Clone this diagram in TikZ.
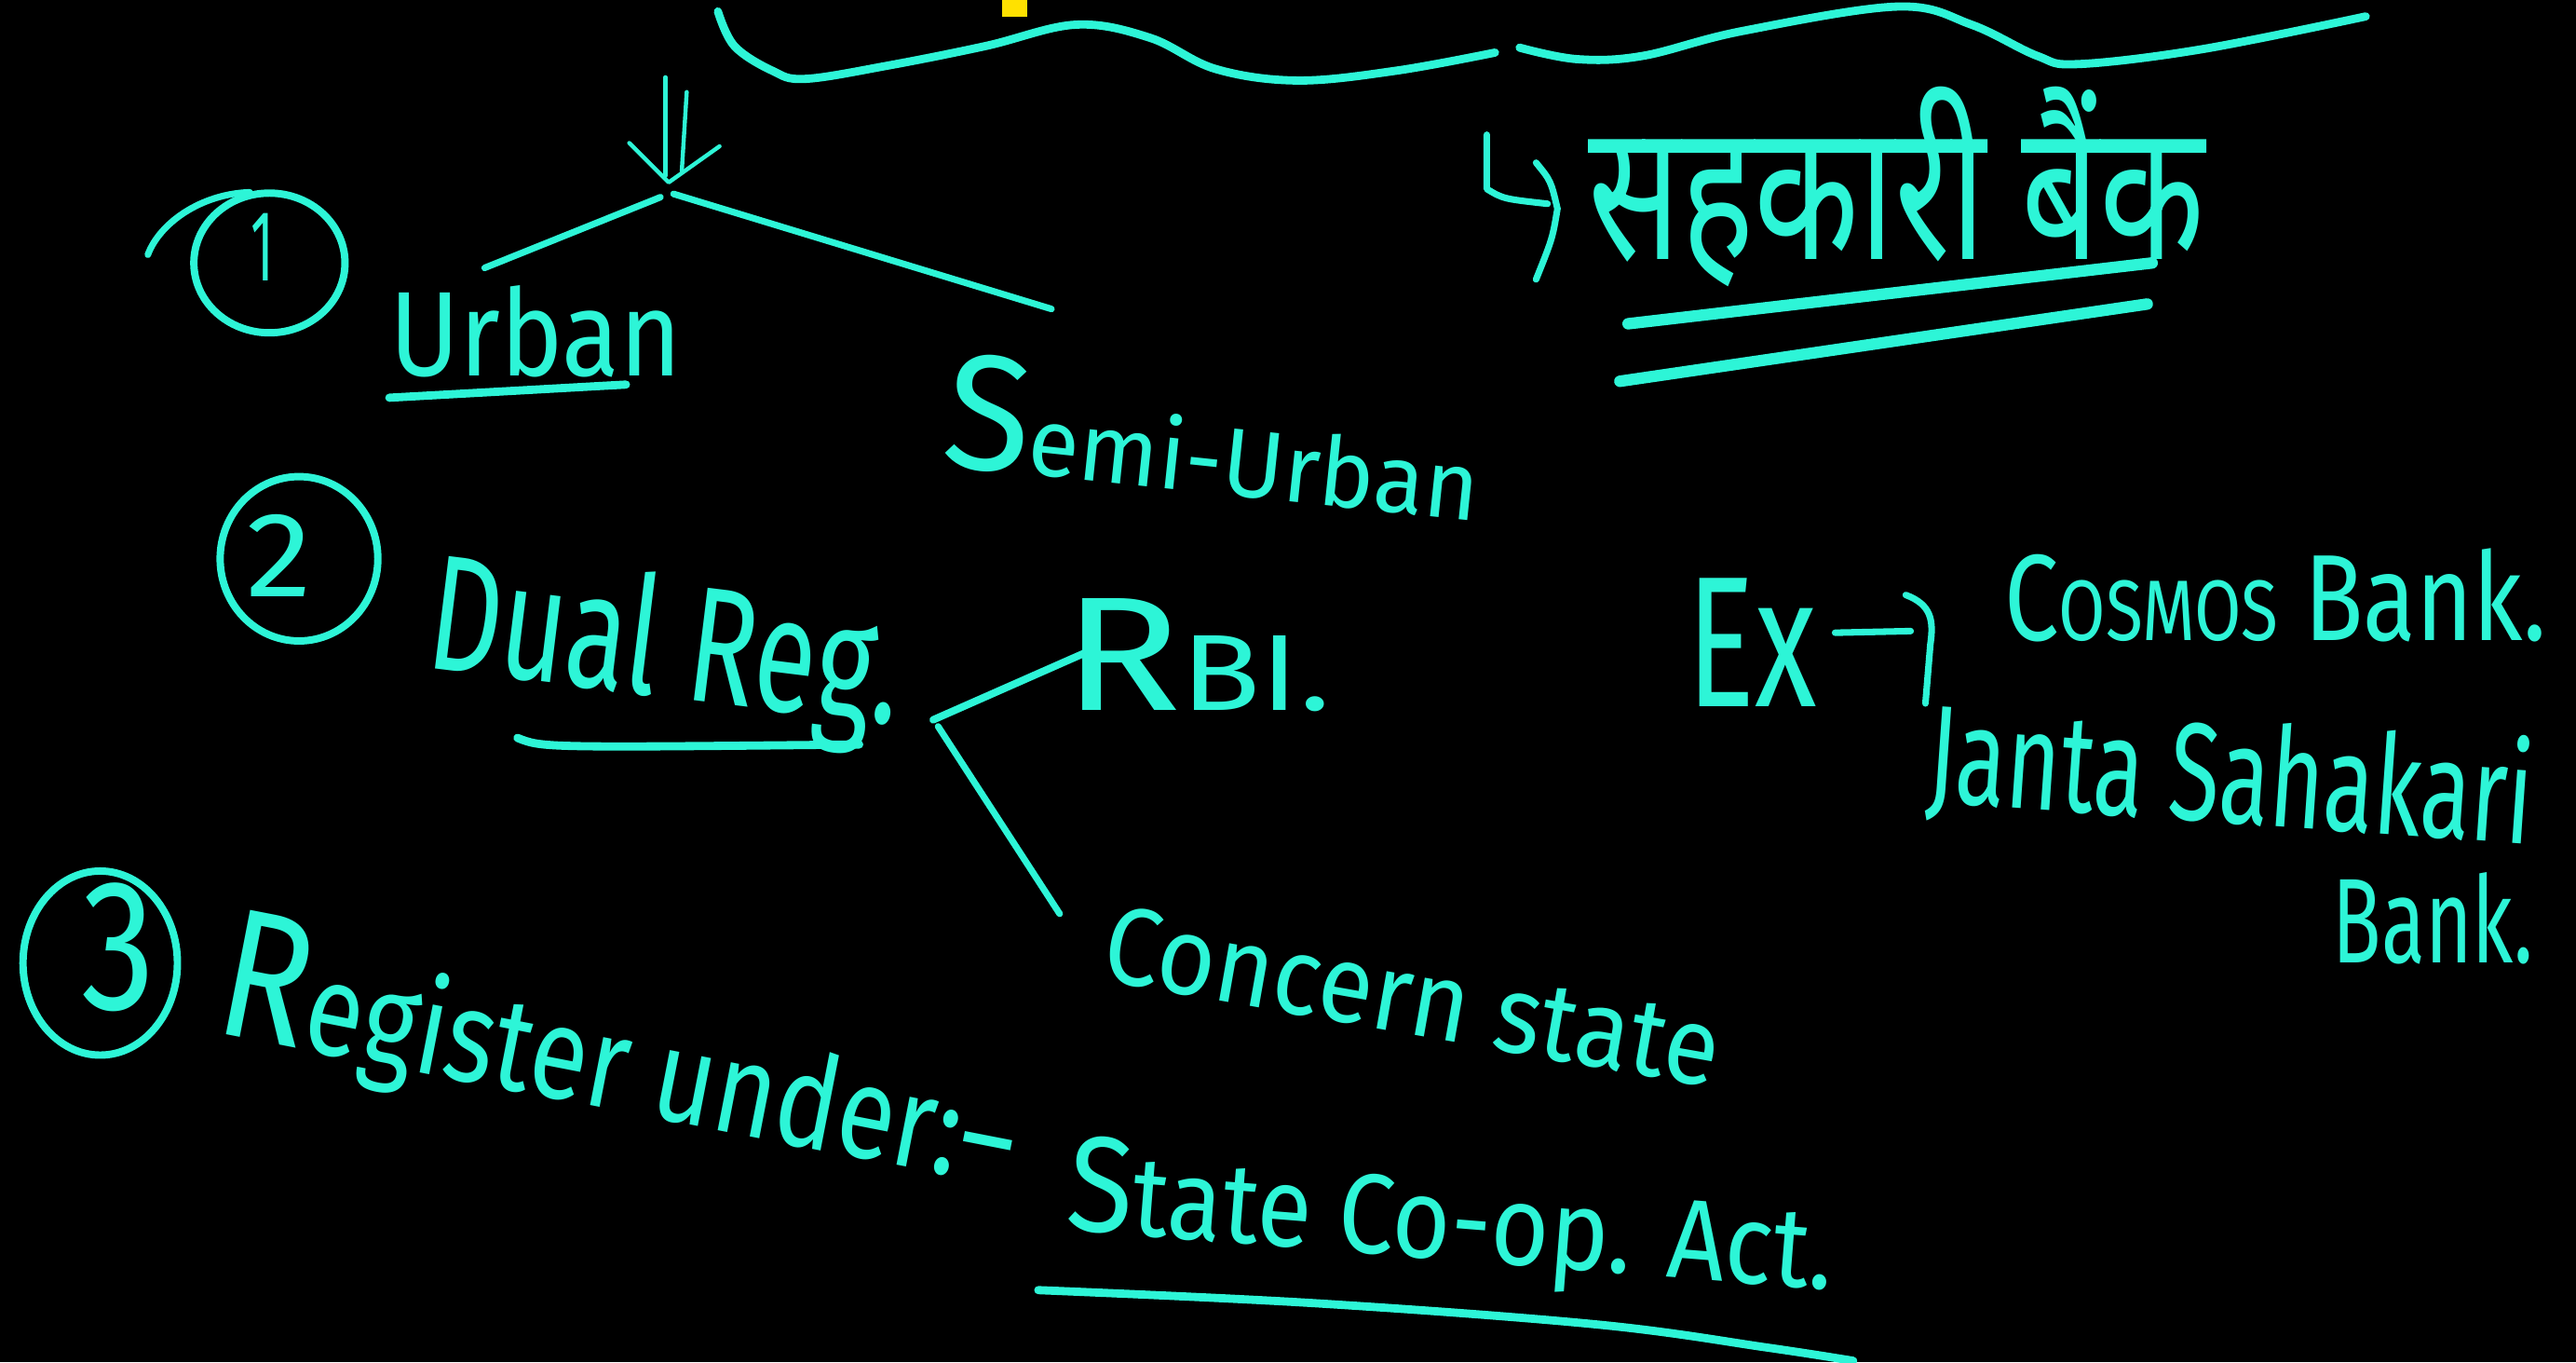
\documentclass[tikz,border=0pt]{standalone}
\usepackage{fontspec}
\usepackage{graphicx}
\setmainfont{Fira Sans}
\newfontfamily\devafont[Script=Devanagari]{Noto Sans}
\usetikzlibrary{shapes.geometric}
\definecolor{inkc}{RGB}{45,245,215}
\definecolor{cursorc}{RGB}{255,225,0}
\newcommand\hwbox[3]{\resizebox{#1pt}{#2pt}{#3}}
\tikzset{
  pen/.style={draw=inkc, line width=4pt, line cap=round, line join=round},
  thinpen/.style={draw=inkc, line width=2.5pt, line cap=round, line join=round},
  thickpen/.style={draw=inkc, line width=6pt, line cap=round, line join=round},
  hw/.style={inner sep=0pt, outer sep=0pt, anchor=base west, text=inkc},
  hwc/.style={inner sep=0pt, outer sep=0pt, anchor=base, text=inkc},
  ring/.style={ellipse, draw=inkc, line width=4.5pt, inner sep=0pt},
}
\begin{document}
\begin{tikzpicture}[x=1pt,y=-1pt]
\fill[black] (0,0) rectangle (1568,829);
\useasboundingbox (0,0) rectangle (1568,829);

% cursor mark
\fill[cursorc] (610,0) rectangle (625,10);

% top brace
\draw[pen, line width=5pt] plot[smooth, tension=0.6] coordinates {(437,7) (447,28) (470,43) (490,48) (540,40) (600,28) (655,15) (700,23) (740,42) (790,49) (850,43) (910,32)};
\draw[pen, line width=5pt] plot[smooth, tension=0.6] coordinates {(925,29) (960,36) (1000,34) (1060,19) (1155,4) (1200,15) (1240,34) (1265,39) (1340,30) (1440,10)};

% double arrow
\coordinate (arrT1) at (405,47);
\coordinate (arrB1) at (405,107);
\coordinate (arrT2) at (418,56);
\coordinate (arrB2) at (415,104);
\draw[thinpen] (arrT1) -- (arrB1);
\draw[thinpen] (arrT2) -- (arrB2);
\coordinate (headL) at (383,87);
\coordinate (headT) at (407,111);
\coordinate (headR) at (438,89);
\draw[thinpen] (headL) -- (headT) -- (headR);

% branches from arrow
\coordinate (apexA) at (402,120);
\coordinate (apexA2) at (410,118);
\coordinate (urbTip) at (295,163);
\coordinate (semiTip) at (640,188);
\draw[pen] (apexA) -- (urbTip);
\draw[pen] (apexA2) -- (semiTip);

% item 1
\node[ring, minimum width=92pt, minimum height=85pt] (c1) at (164,160) {};
\coordinate (t1a) at (90,155);
\coordinate (t1b) at (152,117);
\draw[pen] (t1a) .. controls (97,136) and (122,118) .. (t1b);
\node[hwc] (d1) at (160,171) {\hwbox{14}{41}{1}};
\node[hw] (urban) at (237,229) {\hwbox{178}{55}{Urban}};
\coordinate (ulA) at (237,242);
\coordinate (ulB) at (381,234);
\draw[pen, line width=5pt] (ulA) -- (ulB);

\node[hw, rotate=-6] (semi) at (572,283) {\hwbox{328}{70}{{\fontsize{17}{17}\selectfont S}emi-Urban}};

% item 2
\node[ring, minimum width=96pt, minimum height=100pt] (c2) at (182,340) {};
\node[hwc] (d2) at (170,363) {\hwbox{40}{50}{2}};
\node[hw, rotate=-7] (dual) at (258,406) {\hwbox{289}{75}{Dual Reg.}};
\coordinate (ul2A) at (315,449);
\coordinate (ul2B) at (523,453);
\draw[pen, line width=5pt] (ul2A) .. controls (330,455) .. (ul2B);

\coordinate (apexB) at (568,438);
\coordinate (rbiTip) at (661,397);
\coordinate (apexB2) at (571,442);
\coordinate (stTip) at (645,556);
\draw[pen, line width=4.5pt] (apexB) -- (rbiTip);
\draw[pen] (apexB2) -- (stTip);
\node[hw] (rbi) at (647,432) {\hwbox{163}{68}{{\fontsize{15}{15}\selectfont R}BI.}};
\node[hw, rotate=-10] (concern) at (669,596) {\hwbox{379}{47}{Concern state}};

% item 3
\node[ring, minimum width=94pt, minimum height=112pt] (c3) at (61,586) {};
\node[hwc] (d3) at (72,614) {\hwbox{45}{77}{3}};
\node[hw, rotate=-11] (register) at (129,628) {\hwbox{493}{77}{{\fontsize{14}{14}\selectfont R}egister under:--}};
\node[hw, rotate=-4.5] (act) at (648,748) {\hwbox{468}{58}{{\fontsize{12}{12}\selectfont S}tate Co-op. Act.}};
\draw[thickpen, line width=5pt] plot[smooth, tension=0.6] coordinates {(632,785) (801,793) (973,806) (1076,820) (1128,828)};

% Hindi heading
\coordinate (hkTop) at (905,82);
\coordinate (hkCorner) at (905,115);
\coordinate (hkEnd) at (942,124);
\draw[pen] (hkTop) -- (hkCorner) .. controls (915,121) .. (hkEnd);
\coordinate (hhA) at (935,99);
\coordinate (hhB) at (948,127);
\coordinate (hhC) at (935,170);
\draw[pen] (hhA) .. controls (944,110) .. (hhB) .. controls (945,145) .. (hhC);
\node[hw] (hindi) at (967,158) {\hwbox{375}{105}{\devafont सहकारी बैंक}};
\coordinate (hu1A) at (991,197);
\coordinate (hu1B) at (1310,160);
\coordinate (hu2A) at (986,232);
\coordinate (hu2B) at (1307,185);
\draw[thickpen, line width=7pt] (hu1A) -- (hu1B);
\draw[thickpen, line width=7pt] (hu2A) -- (hu2B);

% examples
\node[hw] (ex) at (1027,430) {\hwbox{79}{78}{Ex}};
\coordinate (exA) at (1117,385);
\coordinate (exB) at (1163,384);
\coordinate (exC) at (1160,362);
\coordinate (exD) at (1172,428);
\draw[pen] (exA) -- (exB);
\draw[pen] (exC) .. controls (1176,368) and (1177,378) .. (1175,392) -- (exD);
\node[hw] (cosmos) at (1220,390) {\hwbox{330}{56}{C{\fontsize{7}{7}\selectfont OSMOS} Bank.}};
\node[hw, rotate=-4] (janta) at (1172,488) {\hwbox{369}{66}{Janta Sahakari}};
\node[hw] (bank2) at (1420,586) {\hwbox{122}{55}{Bank.}};
\end{tikzpicture}
\end{document}
